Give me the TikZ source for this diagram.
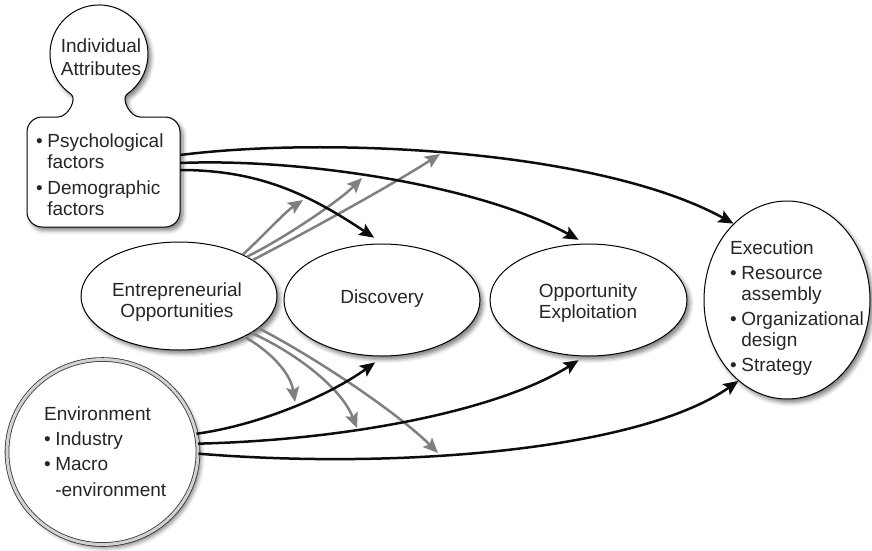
\documentclass[tikz,border=0pt]{standalone}
\usepackage{fontspec}
\setmainfont{Liberation Sans}
\usetikzlibrary{arrows.meta,shapes.geometric,shadows.blur}

\begin{document}
\begin{tikzpicture}[x=1pt,y=1pt,
  txt/.style={font=\fontsize{19}{21}\selectfont, inner sep=0pt, text=black!85},
  soft shadow/.style={blur shadow={shadow xshift=3pt, shadow yshift=-3.5pt,
      shadow blur radius=4pt, shadow opacity=50}},
  bubble/.style={ellipse, draw=black, line width=1pt, fill=white,
      inner sep=0pt, soft shadow},
  blackarrow/.style={line width=2.5pt, draw=black!95,
      -{Stealth[length=15pt,width=13pt,inset=3pt]}},
  grayarrow/.style={line width=2.5pt, draw=black!50,
      -{Stealth[length=15pt,width=13pt,inset=3pt]}},
]
\useasboundingbox (0,0) rectangle (872,-550);

% person-shaped box: head, neck and rounded body
\draw[fill=white, line width=1pt, soft shadow]
  (42,-117) -- (58,-117)
  .. controls (68,-117) and (77.5,-98.7) .. (70.9,-94.1)
  arc[start angle=235, end angle=-55, radius=49]
  .. controls (120.6,-98.7) and (130,-117) .. (140,-117)
  -- (165,-117) arc[start angle=90, end angle=0, radius=15]
  -- (180,-212) arc[start angle=0, end angle=-90, radius=15]
  -- (42,-227) arc[start angle=270, end angle=180, radius=15]
  -- (27,-132) arc[start angle=180, end angle=90, radius=15]
  -- cycle;
\node[minimum width=153pt, minimum height=110pt, inner sep=0pt] (body) at (103.5,-172) {};
\node[txt, align=center] (indiv) at (101,-57) {Individual\\[2pt]Attributes};
\node[txt, anchor=west] (attrs) at (36,-177) {%
  \begin{tabular}{@{}l@{\hspace{4.5pt}}l@{}}
    •&Psychological\\ &factors\\[5pt]
    •&Demographic\\ &factors
  \end{tabular}};

% environment: double ring
\node[ellipse, minimum width=191pt, minimum height=185pt, inner sep=0pt,
      draw=black!80, line width=0.8pt, double=gray!35, double distance=3pt,
      fill=white, soft shadow] (env) at (102.5,-452) {};
\node[txt, anchor=west] (envtext) at (44,-454) {%
  \begin{tabular}{@{}l@{\hspace{4.5pt}}l@{}}
    \multicolumn{2}{@{}l@{}}{Environment}\\[4pt]
    •&Industry\\[4pt]
    •&Macro\\[5pt]
     &-environment
  \end{tabular}};

% process stages
\node[bubble, minimum width=196pt, minimum height=108pt] (eo) at (179,-296) {};
\node[txt, align=center] (eotext) at (177,-302) {Entrepreneurial\\Opportunities};

\node[bubble, minimum width=196pt, minimum height=112pt] (disc) at (382,-300) {};
\node[txt] (disctext) at (382,-299) {Discovery};

\node[bubble, minimum width=197pt, minimum height=112pt] (oe) at (588.5,-300) {};
\node[txt, align=center] (oetext) at (588,-303) {Opportunity\\Exploitation};

\node[bubble, minimum width=166pt, minimum height=198pt] (exe) at (787,-300) {};
\node[txt, anchor=west] (exetext) at (730,-309) {%
  \begin{tabular}{@{}l@{\hspace{4.5pt}}l@{}}
    \multicolumn{2}{@{}l@{}}{Execution}\\[4pt]
    •&Resource\\ &assembly\\[4pt]
    •&Organizational\\ &design\\[4pt]
    •&Strategy
  \end{tabular}};

% free ends of the opportunity arrows
\coordinate (g1) at (303,-200);
\coordinate (g2) at (362,-178);
\coordinate (g3) at (440,-154);
\coordinate (g4) at (295,-402);
\coordinate (g5) at (357,-428);
\coordinate (g6) at (438,-453);

% opportunity influences (grey)
\draw[grayarrow] (eo.33) .. controls (262,-237) and (285,-212) .. (g1);
\draw[grayarrow] (eo.30) .. controls (290,-235) and (340,-200) .. (g2);
\draw[grayarrow] (eo.26) .. controls (320,-225) and (400,-180) .. (g3);
\draw[grayarrow] (eo.-32) .. controls (265,-348) and (290,-370) .. (g4);
\draw[grayarrow] (eo.-27) .. controls (290,-350) and (340,-385) .. (g5);
\draw[grayarrow] (eo.-22) .. controls (320,-360) and (400,-415) .. (g6);

% individual attributes to each stage
\draw[blackarrow] ([yshift=17pt]body.east) .. controls (330,-136) and (600,-150) .. (exe.125);
\draw[blackarrow] ([yshift=9pt]body.east) .. controls (300,-158) and (480,-185) .. ([yshift=4pt]oe.100);
\draw[blackarrow] ([yshift=2pt]body.east) .. controls (260,-170) and (310,-195) .. ([yshift=6pt]disc.98);

% environment to each stage
\draw[blackarrow] (env.11) .. controls (260,-425) and (330,-395) .. ([yshift=-6pt]disc.-97);
\draw[blackarrow] (env.5) .. controls (350,-440) and (500,-410) .. ([yshift=-4pt]oe.-100);
\draw[blackarrow] (env.-1) .. controls (400,-470) and (640,-450) .. (exe.-121);
\end{tikzpicture}
\end{document}
